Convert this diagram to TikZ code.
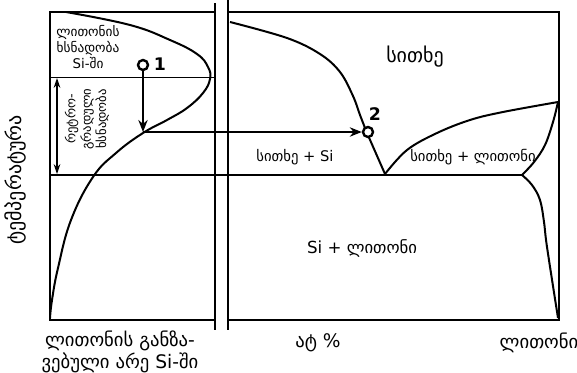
\documentclass[tikz,border=0pt]{standalone}
\usepackage{fontspec}
\setmainfont{DejaVu Sans}
\usetikzlibrary{arrows.meta}

\tikzset{
  frame/.style={line width=2.2pt},
  curve/.style={line width=1.5pt},
  thinline/.style={line width=0.7pt},
  arr/.style={line width=1.8pt,-{Stealth[length=9pt,width=7pt]}},
  pnt/.style={circle,draw,line width=1.8pt,minimum size=7.5pt,inner sep=0pt,fill=white},
  lbl/.style={font=\fontsize{10}{9.3}\selectfont,align=center,inner sep=0pt},
  axlbl/.style={font=\fontsize{14}{15}\selectfont,align=center,inner sep=0pt},
  numlbl/.style={font=\fontsize{13}{13}\selectfont\bfseries,inner sep=0pt},
}

\begin{document}
\begin{tikzpicture}[x=0.75pt,y=-0.75pt]
    \useasboundingbox (0,0) rectangle (577,372);

    % left panel
    \draw[frame] (215,12) -- (50,12) -- (50,320) -- (215,320);
    \draw[frame] (215,3) -- (215,330);

    % right panel
    \draw[frame] (228,0) -- (228,330);
    \draw[frame] (228,12) -- (559,12) -- (559,320) -- (228,320);

    % horizontal lines
    \draw[thinline] (50,77) -- (215,77);
    \draw[curve] (50,175) -- (522,175);

    % solvus in the left panel
    \draw[curve] plot[smooth,tension=0.7] coordinates {(66,12) (130,25) (170,40) (197,54) (208,67) (210,79)
        (203,93) (187,108) (167,120) (143,133) (116,153) (93,177) (71,220) (58,268) (52,300) (50,318)};

    % liquidus
    \draw[curve] plot[smooth,tension=0.6] coordinates {(230,22) (287,38) (320,54) (340,72) (353,96) (360,115) (367,133)};
    \draw[curve] (367,133) -- (385,174);
    \draw[curve] plot[smooth,tension=0.6] coordinates {(385,174) (407,150) (437,133) (470,120) (503,112) (558,102)};

    % solidus and solvus on the metal side
    \draw[curve] plot[smooth,tension=0.6] coordinates {(558,102) (553,122) (545,145) (534,162) (522,175)};
    \draw[curve] plot[smooth,tension=0.6] coordinates {(522,175) (532,185) (540,200) (544,222) (547,247) (558,318)};

    % retrograde range
    \draw[line width=0.9pt,{Stealth[length=7.5pt,width=5pt]}-{Stealth[length=7.5pt,width=5pt]}] (57,78) -- (57,174);

    % points 1 and 2
    \node[pnt] (p1) at (143,65) {};
    \node[pnt] (p2) at (368,132) {};
    \node[numlbl] (n1) at (160,64) {1};
    \node[numlbl] (n2) at (375,114) {2};
    \coordinate (knee) at (143,132);
    \draw[arr] (p1) -- (knee);
    \draw[arr] (knee) -- (p2);

    % texts
    \node[lbl] (solub) at (88,47) {ლითონის\\ხსნადობა\\Si-ში};
    \node[lbl,font=\fontsize{9.5}{11.5}\selectfont,rotate=90] (retro) at (87,119) {რეტრო-\\გრადული\\ხსნადობა};
    \node[axlbl,font=\fontsize{15}{16}\selectfont,rotate=90] (temp) at (15,180) {ტემპერატურა};
    \node[lbl,font=\fontsize{15}{16}\selectfont] (liq) at (415,57) {სითხე};
    \node[lbl,font=\fontsize{11}{12}\selectfont] (liqsi) at (295,157) {სითხე + Si};
    \node[lbl,font=\fontsize{11}{12}\selectfont] (liqmet) at (473,157) {სითხე + ლითონი};
    \node[lbl,font=\fontsize{12.5}{13}\selectfont] (simet) at (362,248) {Si + ლითონი};
    \node[axlbl] (dilute) at (120,352) {ლითონის განზა-\\ვებული არე Si-ში};
    \node[axlbl] (atp) at (318,343) {ატ~\%};
    \node[axlbl] (metal) at (539,343) {ლითონი};
\end{tikzpicture}
\end{document}
